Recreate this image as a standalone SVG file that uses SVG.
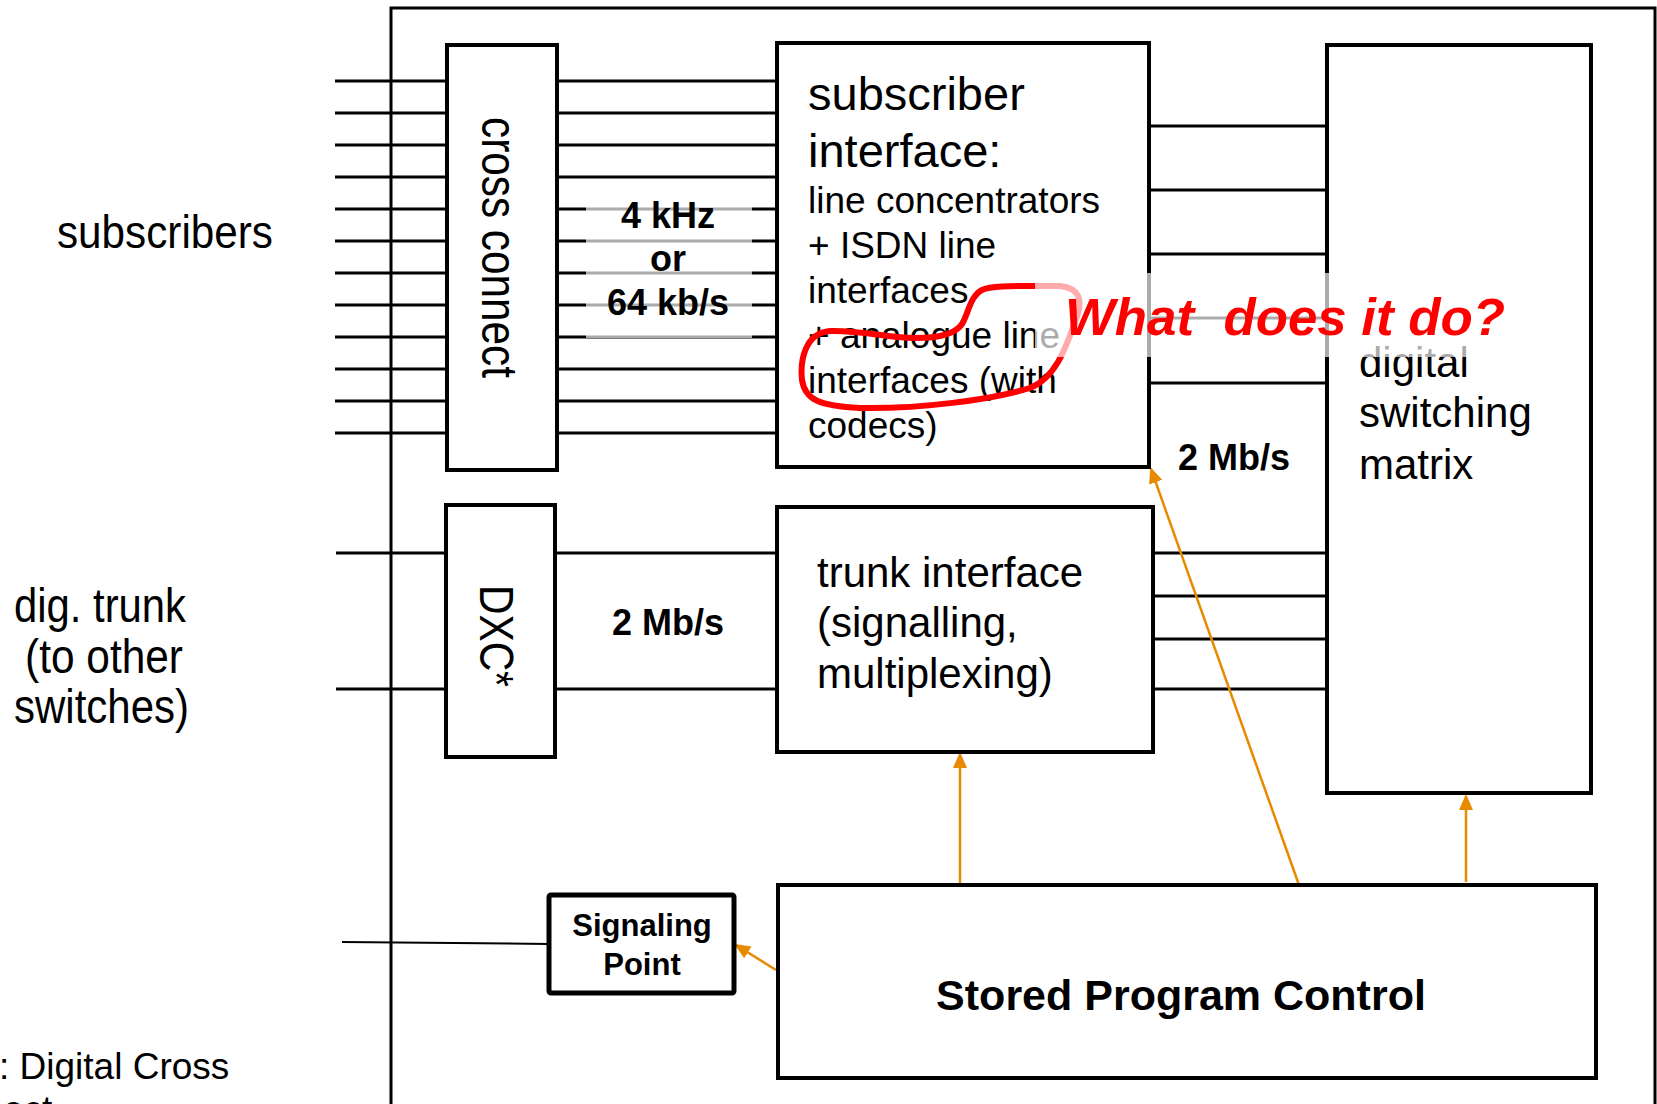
<svg xmlns="http://www.w3.org/2000/svg" width="1657" height="1104" viewBox="0 0 1657 1104">
<style>
  text { font-family: "Liberation Sans", Arial, sans-serif; fill: #000; }
  .box { fill: #fff; stroke: #000; stroke-width: 4; }
  .ln { stroke: #000; stroke-width: 3; fill: none; }
  .ctl { stroke: #E88A00; stroke-width: 2.5; fill: none; marker-end: url(#ah); }
  .b { font-weight: bold; }
</style>
<defs>
  <marker id="ah" markerWidth="16" markerHeight="14" refX="14" refY="7" orient="auto" markerUnits="userSpaceOnUse">
    <path d="M0,0 L16,7 L0,14 Z" fill="#E88A00"/>
  </marker>
</defs>
<rect x="0" y="0" width="1657" height="1104" fill="#fff"/>

<!-- outer frame -->
<rect x="391" y="8" width="1264" height="1200" fill="none" stroke="#000" stroke-width="3"/>

<!-- connectors -->
<g id="connectors">
  <g class="ln">
    <path d="M335,81H447M335,113H447M335,145H447M335,177H447M335,209H447M335,241H447M335,273H447M335,305H447M335,337H447M335,369H447M335,401H447M335,433H447"/>
    <path d="M557,81H777M557,113H777M557,145H777M557,177H777M557,209H777M557,241H777M557,273H777M557,305H777M557,337H777M557,369H777M557,401H777M557,433H777"/>
    <path d="M1149,126H1327M1149,190H1327M1149,254H1327M1149,318H1327M1149,383H1327"/>
    <path d="M336,553H446M336,689H446M555,553H777M555,689H777"/>
    <path d="M1153,553H1327M1153,596H1327M1153,639H1327M1153,689H1327"/>
  </g>
  <path d="M342,942 L549,944" stroke="#000" stroke-width="2" fill="none"/>
  <path class="ctl" d="M960,885 V754"/>
  <path class="ctl" d="M1466,882 V796"/>
  <path class="ctl" d="M1299,885 L1151,469"/>
  <path class="ctl" d="M776,970 L736,945"/>
</g>

<rect x="586" y="204" width="166" height="134" fill="#fff" opacity="0.67"/>
<g id="rate-label" class="b" font-size="36" text-anchor="middle">
  <text x="668" y="228">4 kHz</text>
  <text x="668" y="271">or</text>
  <text x="668" y="315">64 kb/s</text>
</g>

<g id="cross-connect">
  <rect class="box" x="447" y="45" width="110" height="425"/>
  <text transform="translate(482,117) rotate(90)" font-size="50" textLength="261" lengthAdjust="spacingAndGlyphs">cross connect</text>
</g>

<g id="dxc">
  <rect class="box" x="446" y="505" width="109" height="252"/>
  <text transform="translate(480,585) rotate(90)" font-size="48" textLength="102" lengthAdjust="spacingAndGlyphs">DXC*</text>
</g>

<g id="subscriber-interface">
  <rect class="box" x="777" y="43" width="372" height="424"/>
  <text x="808" y="110" font-size="47">subscriber</text>
  <text x="808" y="167" font-size="47">interface:</text>
  <text x="808" y="213" font-size="37">line concentrators</text>
  <text x="808" y="258" font-size="37">+ ISDN line</text>
  <text x="808" y="303" font-size="37">interfaces</text>
  <text x="808" y="348" font-size="37">+ analogue line</text>
  <text x="808" y="393" font-size="37">interfaces (with</text>
  <text x="808" y="438" font-size="37">codecs)</text>
</g>

<g id="trunk-interface">
  <rect class="box" x="777" y="507" width="376" height="245"/>
  <text x="817" y="587" font-size="42">trunk interface</text>
  <text x="817" y="637" font-size="42">(signalling,</text>
  <text x="817" y="688" font-size="42">multiplexing)</text>
</g>

<g id="switching-matrix">
  <rect class="box" x="1327" y="45" width="264" height="748"/>
  <text x="1359" y="377" font-size="42">digital</text>
  <text x="1359" y="427" font-size="42">switching</text>
  <text x="1359" y="479" font-size="42">matrix</text>
</g>

<g id="rate-2mbs-right">
  <text x="1178" y="470" font-size="36" class="b">2 Mb/s</text>
</g>
<g id="rate-2mbs-left">
  <text x="612" y="635" font-size="36" class="b">2 Mb/s</text>
</g>

<g id="signaling-point">
  <rect x="549" y="895" width="185" height="98" rx="2" fill="#fff" stroke="#000" stroke-width="5"/>
  <text x="642" y="936" font-size="31" class="b" text-anchor="middle">Signaling</text>
  <text x="642" y="975" font-size="31" class="b" text-anchor="middle">Point</text>
</g>

<g id="stored-program-control">
  <rect class="box" x="778" y="885" width="818" height="193"/>
  <text x="1181" y="1010" font-size="43" class="b" text-anchor="middle">Stored Program Control</text>
</g>

<g id="labels">
  <text x="57" y="248" font-size="46" textLength="216" lengthAdjust="spacingAndGlyphs">subscribers</text>
  <text x="14" y="622" font-size="48" textLength="172" lengthAdjust="spacingAndGlyphs">dig. trunk</text>
  <text x="25" y="673" font-size="48" textLength="158" lengthAdjust="spacingAndGlyphs">(to other</text>
  <text x="14" y="723" font-size="48" textLength="175" lengthAdjust="spacingAndGlyphs">switches)</text>
  <text x="-1" y="1079" font-size="37">: Digital Cross</text>
  <text x="3" y="1122" font-size="37">ect</text>
</g>

<g id="annotation">
  <path d="M1035,286 C1010,286 990,286 982,290 C970,296 968,315 962,324 C955,335 935,338 915,338 C890,338 860,330 830,331 C805,333 800,360 802,380 C805,400 820,406 860,408 C920,409 990,400 1030,388 C1055,378 1065,350 1075,322 C1085,298 1078,288 1060,286 C1050,286 1042,286 1035,286 Z" fill="none" stroke="#FF0000" stroke-width="6" stroke-linejoin="round"/>
  <rect x="1035" y="273" width="485" height="84" fill="#fff" opacity="0.67"/>
  <text x="1065" y="335" font-size="52" font-weight="bold" font-style="italic" style="fill:#FF0000;white-space:pre" xml:space="preserve" textLength="440" lengthAdjust="spacingAndGlyphs">What  does it do?</text>
</g>
</svg>
